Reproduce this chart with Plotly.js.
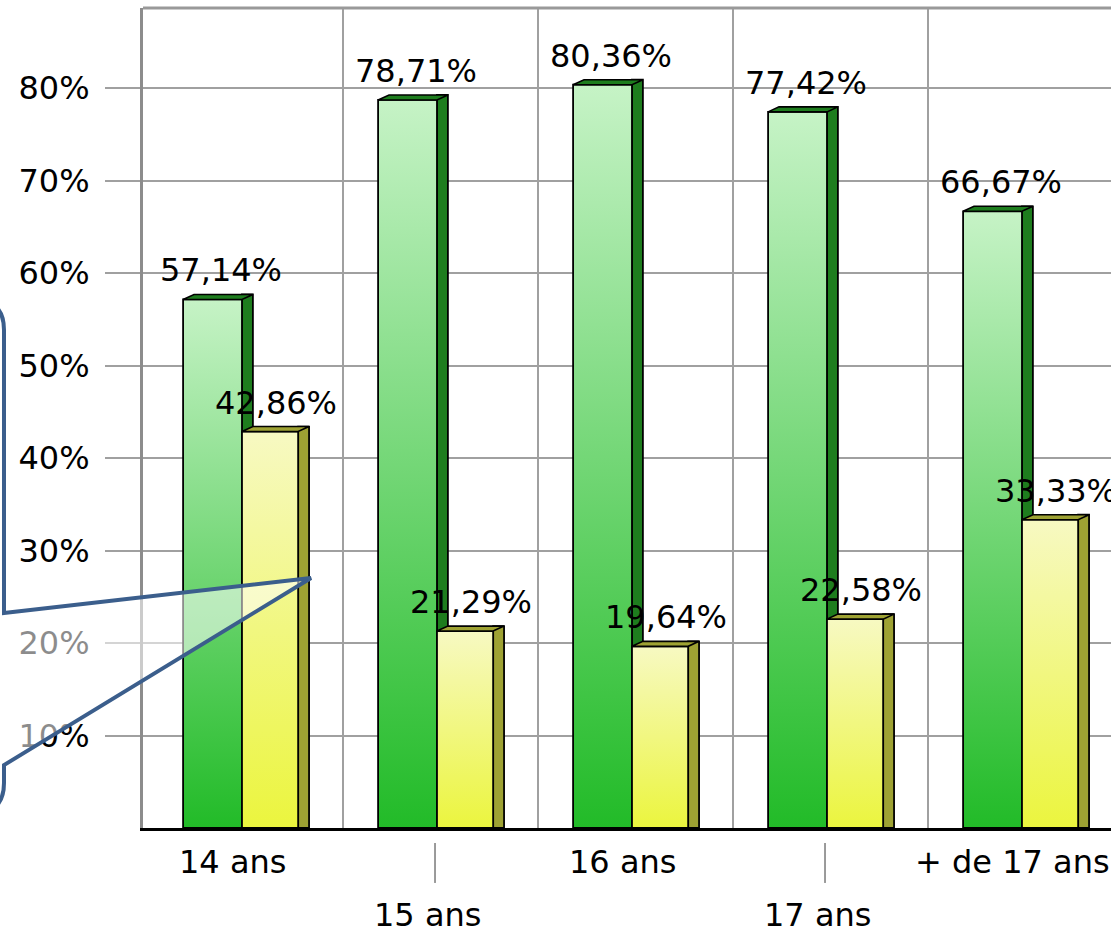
<!DOCTYPE html>
<html>
<head>
<meta charset="utf-8">
<script src="https://cdn.plot.ly/plotly-3.0.1.min.js"></script>
<style>html,body{margin:0;padding:0;background:#fff;overflow:hidden}</style>
</head>
<body>
<div id="chart" style="width:1111px;height:933px"></div>
<script>
// ---- data ----
const categories = ['14 ans', '15 ans', '16 ans', '17 ans', '+ de 17 ans'];
const greenValues = [57.14, 78.71, 80.36, 77.42, 66.67];
const yellowValues = [42.86, 21.29, 19.64, 22.58, 33.33];
const yTickVals = [10, 20, 30, 40, 50, 60, 70, 80];
const yTickText = ['10%', '20%', '30%', '40%', '50%', '60%', '70%', '80%'];

// ---- geometry / style ----
const FONT = 'DejaVu Sans';
const idx = categories.map((c, i) => i);
const DX = 0.056, DY = 0.54;
const GF = {off: -0.32, w: 0.302};
const YF = {off: -0.018, w: 0.288};
const GREEN_SIDE = '#1e7d1e', YELLOW_SIDE = '#9ea233';
const fmt = v => v.toFixed(2).replace('.', ',') + '%';

function topFaces(vals, f) {
  const xs = [], ys = [];
  vals.forEach((v, i) => {
    const xl = i + f.off, xr = i + f.off + f.w;
    xs.push(xl, xr, xr + DX, xl + DX, xl, null);
    ys.push(v, v, v + DY, v + DY, v, null);
  });
  return {xs, ys};
}
const gTop = topFaces(greenValues, GF);
const yTop = topFaces(yellowValues, YF);

const line = {color: '#000', width: 1.8};
const traces = [
  {type: 'bar', x: idx, y: greenValues.map(v => v + DY), offset: GF.off + GF.w, width: DX,
   marker: {color: GREEN_SIDE, line: line}, hoverinfo: 'skip'},
  {type: 'bar', x: idx, y: greenValues, offset: GF.off, width: GF.w,
   marker: {color: '#7dd87d', line: line}, hoverinfo: 'skip'},
  {type: 'bar', x: idx, y: yellowValues.map(v => v + DY), offset: YF.off + YF.w, width: DX,
   marker: {color: YELLOW_SIDE, line: line}, hoverinfo: 'skip'},
  {type: 'bar', x: idx, y: yellowValues, offset: YF.off, width: YF.w,
   marker: {color: '#f2f68a', line: line}, hoverinfo: 'skip'},
  {type: 'scatter', mode: 'lines', x: gTop.xs, y: gTop.ys, fill: 'toself', fillcolor: GREEN_SIDE,
   line: {color: '#000', width: 1.6}, hoverinfo: 'skip'},
  {type: 'scatter', mode: 'lines', x: yTop.xs, y: yTop.ys, fill: 'toself', fillcolor: YELLOW_SIDE,
   line: {color: '#000', width: 1.6}, hoverinfo: 'skip'}
];

const annotations = [];
greenValues.forEach((v, i) => annotations.push({
  x: i - 0.128, y: v, xref: 'x', yref: 'y', text: fmt(v), showarrow: false,
  yanchor: 'middle', yshift: 29, font: {family: FONT, size: 32, color: '#000'}
}));
yellowValues.forEach((v, i) => annotations.push({
  x: i + 0.157, y: v, xref: 'x', yref: 'y', text: fmt(v), showarrow: false,
  yanchor: 'middle', yshift: 29, font: {family: FONT, size: 32, color: '#000'}
}));
categories.forEach((c, i) => annotations.push({
  x: i - 0.068, y: (i % 2 === 0) ? -0.0415 : -0.106, xref: 'x', yref: 'paper', text: c,
  showarrow: false, yanchor: 'middle', font: {family: FONT, size: 32, color: '#000'}
}));

// pixel -> paper helpers for decorations
const PL = 143, PW = 968, PB = 828, PH = 820;
const px = p => ((p - PL) / PW).toFixed(4);
const py = p => ((PB - p) / PH).toFixed(4);

const shapes = [
  {type: 'line', xref: 'paper', yref: 'paper', x0: 0, x1: 1, y0: 1, y1: 1,
   line: {color: '#999', width: 3}},
  {type: 'line', xref: 'x', yref: 'paper', x0: 1 - 0.028, x1: 1 - 0.028, y0: -0.0183, y1: -0.067,
   line: {color: '#999', width: 2}},
  {type: 'line', xref: 'x', yref: 'paper', x0: 3 - 0.028, x1: 3 - 0.028, y0: -0.0183, y1: -0.067,
   line: {color: '#999', width: 2}},
  {type: 'path', xref: 'paper', yref: 'paper', layer: 'above',
   path: `M ${px(-60)} ${py(300)} L ${px(-26)} ${py(300)} Q ${px(4)} ${py(300)} ${px(4)} ${py(330)} ` +
         `L ${px(4)} ${py(613)} L ${px(311)} ${py(578)} L ${px(4)} ${py(765)} L ${px(4)} ${py(783)} ` +
         `Q ${px(4)} ${py(813)} ${px(-26)} ${py(813)} L ${px(-60)} ${py(813)} Z`,
   fillcolor: 'rgba(255,255,255,0.55)', line: {color: '#3b5e8c', width: 4}}
];

const layout = {
  width: 1111, height: 933,
  margin: {l: PL, r: 0, t: 8, b: 105, pad: 0},
  paper_bgcolor: '#fff', plot_bgcolor: '#fff',
  barmode: 'overlay', showlegend: false, hovermode: false,
  font: {family: FONT, size: 32, color: '#000'},
  xaxis: {range: [-0.5256, 4.4385], tickvals: [0.5, 1.5, 2.5, 3.5], showticklabels: false,
          ticks: '', showgrid: true, gridcolor: '#a0a0a0', gridwidth: 2, zeroline: false,
          showline: true, linecolor: '#000', linewidth: 3, fixedrange: true},
  yaxis: {range: [0, 88.65], tickvals: yTickVals, ticktext: yTickText, ticks: 'outside',
          ticklen: 35, tickwidth: 2, tickcolor: '#a0a0a0', ticklabelstandoff: 9,
          showgrid: true, gridcolor: '#a0a0a0', gridwidth: 2, zeroline: false,
          showline: true, linecolor: '#8c8c8c', linewidth: 3,
          tickfont: {family: FONT, size: 32, color: '#000'}, fixedrange: true},
  annotations: annotations,
  shapes: shapes
};

Plotly.newPlot('chart', traces, layout, {displayModeBar: false, staticPlot: true}).then(gd => {
  const svg = gd.querySelector('svg.main-svg');
  const NS = 'http://www.w3.org/2000/svg';
  let defs = svg.querySelector('defs');
  if (!defs) { defs = document.createElementNS(NS, 'defs'); svg.insertBefore(defs, svg.firstChild); }
  function grad(id, top, bottom) {
    const g = document.createElementNS(NS, 'linearGradient');
    g.setAttribute('id', id);
    g.setAttribute('x1', '0'); g.setAttribute('y1', '0');
    g.setAttribute('x2', '0'); g.setAttribute('y2', '1');
    [[0, top], [1, bottom]].forEach(([o, c]) => {
      const s = document.createElementNS(NS, 'stop');
      s.setAttribute('offset', o); s.setAttribute('stop-color', c);
      g.appendChild(s);
    });
    defs.appendChild(g);
  }
  grad('gradGreen', '#c6f3c6', '#22bb28');
  grad('gradYellow', '#f7f9c2', '#ebf53e');
  const bars = gd.querySelectorAll('.barlayer .trace');
  if (bars[1]) bars[1].querySelectorAll('path').forEach(p => p.style.fill = 'url(#gradGreen)');
  if (bars[3]) bars[3].querySelectorAll('path').forEach(p => p.style.fill = 'url(#gradYellow)');
});
</script>
</body>
</html>
